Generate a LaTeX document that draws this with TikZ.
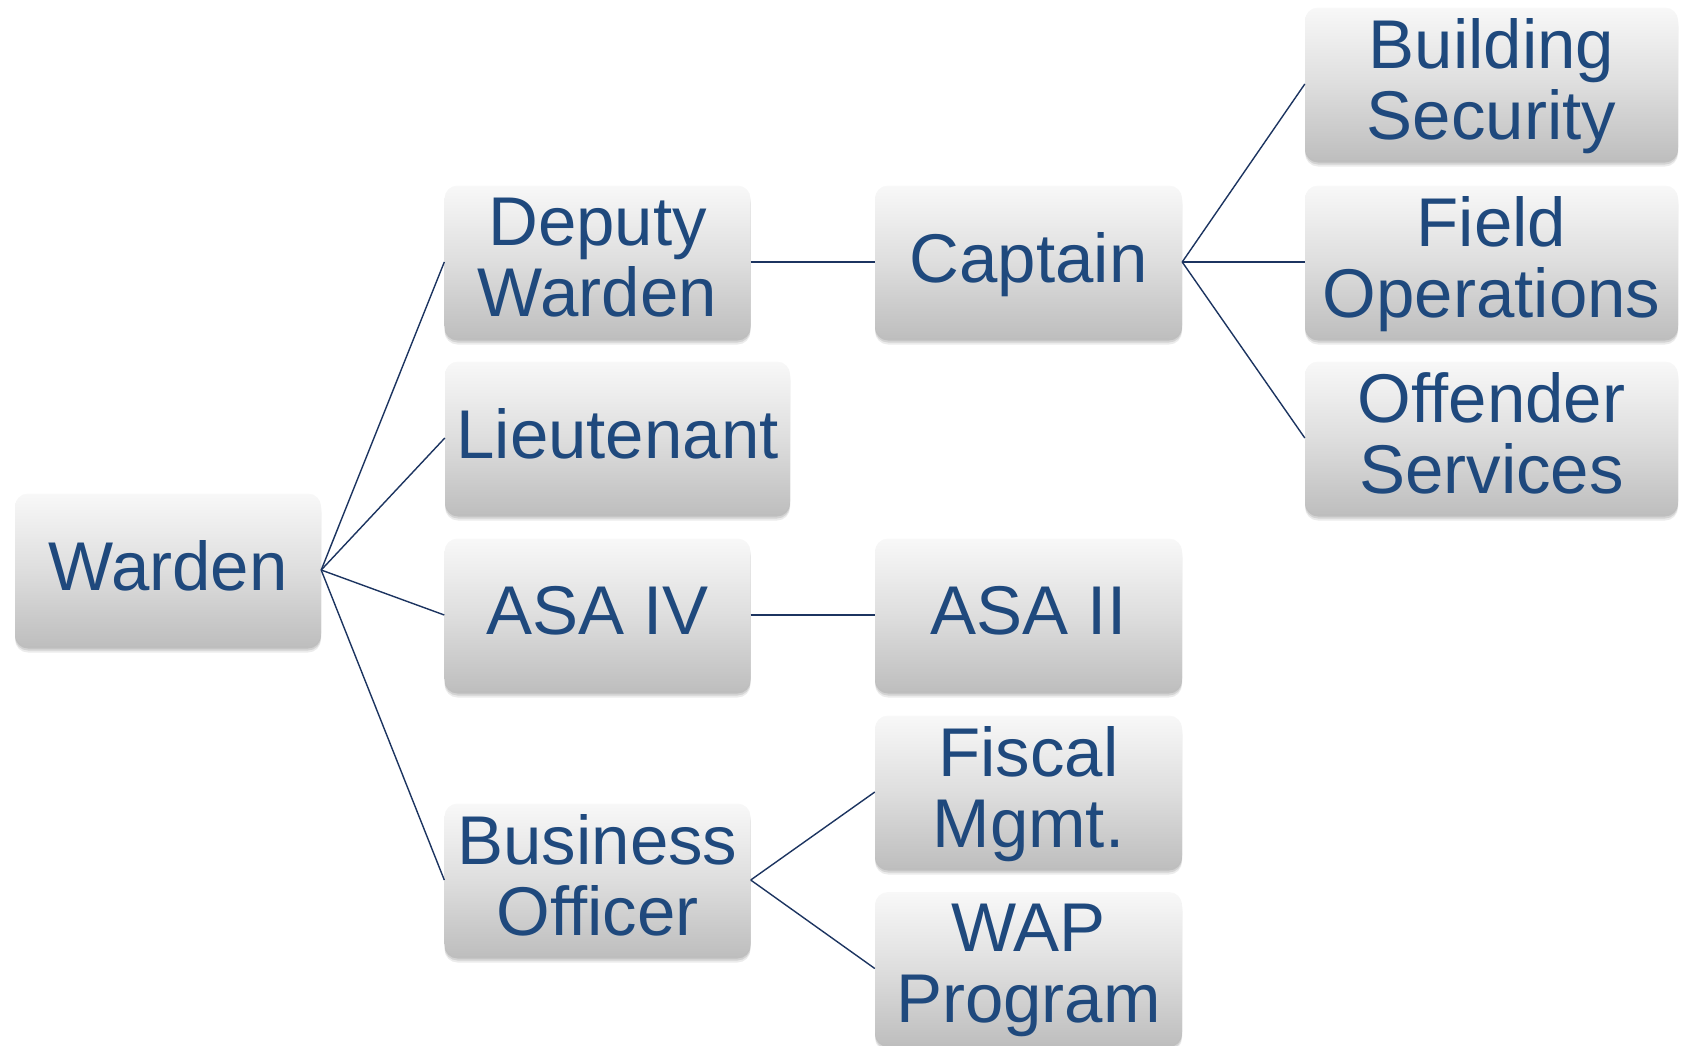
\documentclass[tikz,border=0pt]{standalone}
\usepackage{fontspec}
\setmainfont{Liberation Sans}
\usetikzlibrary{shadows}
\definecolor{txtblue}{RGB}{31,73,125}
\definecolor{lineblue}{RGB}{28,52,96}
\definecolor{boxtop}{RGB}{248,248,248}
\definecolor{boxbot}{RGB}{190,190,190}
\tikzset{
  softshadow/.style={
    general shadow={shadow xshift=0pt, shadow yshift=-2pt, opacity=0.10, fill=black},
    general shadow={shadow xshift=0pt, shadow yshift=-4pt, opacity=0.10, fill=black},
    general shadow={shadow xshift=0pt, shadow yshift=-6pt, opacity=0.08, fill=black}},
  orgbox/.style={rectangle, rounded corners=13pt, inner sep=0pt,
    minimum height=153pt, minimum width=306pt,
    top color=boxtop, bottom color=boxbot, middle color=boxtop!55!boxbot, draw=none,
    softshadow,
    text=txtblue, align=center, text depth=10pt,
    font=\fontsize{69}{71}\selectfont},
  widebox/.style={orgbox, minimum width=373pt},
  conn/.style={draw=lineblue, line width=1.4pt}
}
\begin{document}
\begin{tikzpicture}[x=1pt,y=-1pt]
\useasboundingbox (0,0) rectangle (1685,1045);
% column 1
\node[orgbox] (warden) at (168,570) {Warden};
% column 2
\node[orgbox] (deputy) at (597.5,262) {Deputy\\Warden};
\node[orgbox, minimum width=345pt] (lieut) at (617.5,438) {Lieutenant};
\node[orgbox] (asa4) at (597.5,615) {ASA IV};
\node[orgbox] (bus) at (597.5,880) {Business\\Officer};
% column 3
\node[orgbox, minimum width=307pt] (captain) at (1028.5,262) {Captain};
\node[orgbox, minimum width=307pt] (asa2) at (1028.5,615) {ASA II};
\node[orgbox, minimum width=307pt] (fiscal) at (1028.5,792) {Fiscal\\Mgmt.};
\node[orgbox, minimum width=307pt] (wap) at (1028.5,968.5) {WAP\\Program};
% column 4
\node[widebox] (build) at (1491.5,84) {Building\\Security};
\node[widebox] (field) at (1491.5,262) {Field\\Operations};
\node[widebox] (offend) at (1491.5,438) {Offender\\Services};
% connectors
\draw[conn] (warden.east) -- (deputy.west);
\draw[conn] (warden.east) -- (lieut.west);
\draw[conn] (warden.east) -- (asa4.west);
\draw[conn] (warden.east) -- (bus.west);
\draw[conn] (deputy.east) -- (captain.west);
\draw[conn] (asa4.east) -- (asa2.west);
\draw[conn] (bus.east) -- (fiscal.west);
\draw[conn] (bus.east) -- (wap.west);
\draw[conn] (captain.east) -- (build.west);
\draw[conn] (captain.east) -- (field.west);
\draw[conn] (captain.east) -- (offend.west);
\end{tikzpicture}
\end{document}
